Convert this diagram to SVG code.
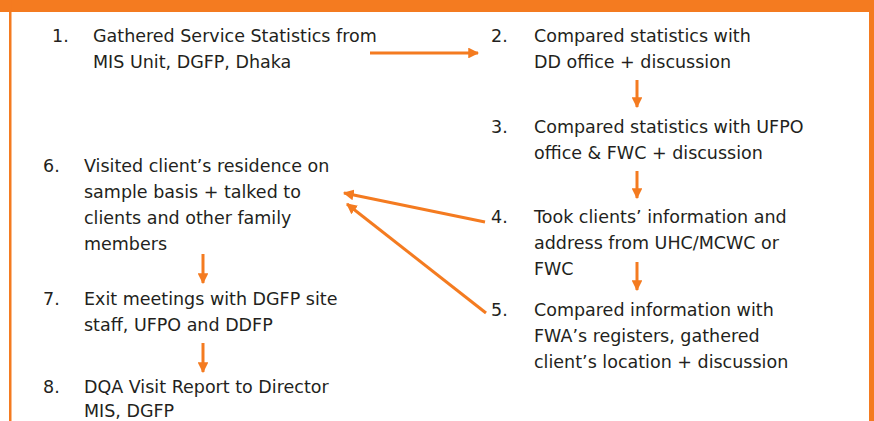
<svg xmlns="http://www.w3.org/2000/svg" width="874" height="421" viewBox="0 0 874 421">
  <style>
    .t { font-family: "DejaVu Sans", "Open Sans", sans-serif; font-size: 17.5px; fill: #231f20; }
    .c { stroke: #f47b20; stroke-width: 3; fill: none; }
  </style>
  <defs>
    <marker id="ah" viewBox="0 0 10 10" refX="9" refY="5" markerWidth="3.6" markerHeight="3.6" markerUnits="strokeWidth" orient="auto">
      <path d="M0,0 L10,5 L0,10 Z" fill="#f47b20"/>
    </marker>
  </defs>

  <!-- frame -->
  <rect x="0" y="0" width="874" height="421" fill="#ffffff"/>
  <rect x="0" y="0" width="874" height="12" fill="#f47b20"/>
  <rect x="9" y="0" width="2.5" height="421" fill="#f47b20"/>
  <rect x="869" y="0" width="5" height="421" fill="#f47b20"/>

  <!-- connectors -->
  <g id="connectors">
    <line class="c" x1="370" y1="53" x2="478" y2="53" marker-end="url(#ah)"/>
    <line class="c" x1="637" y1="80" x2="637" y2="107" marker-end="url(#ah)"/>
    <line class="c" x1="637" y1="171" x2="637" y2="198" marker-end="url(#ah)"/>
    <line class="c" x1="637" y1="262" x2="637" y2="290" marker-end="url(#ah)"/>
    <line class="c" x1="485" y1="222" x2="344" y2="193" marker-end="url(#ah)"/>
    <line class="c" x1="486" y1="313" x2="347" y2="204" marker-end="url(#ah)"/>
    <line class="c" x1="203" y1="254" x2="203" y2="283" marker-end="url(#ah)"/>
    <line class="c" x1="203" y1="343" x2="203" y2="372" marker-end="url(#ah)"/>
  </g>

  <g id="step1">
    <text class="t" x="52" y="42">1.</text>
    <text class="t" x="93" y="42">Gathered Service Statistics from</text>
    <text class="t" x="93" y="68">MIS Unit, DGFP, Dhaka</text>
  </g>
  <g id="step2">
    <text class="t" x="491" y="42">2.</text>
    <text class="t" x="534" y="42">Compared statistics with</text>
    <text class="t" x="534" y="68">DD office + discussion</text>
  </g>
  <g id="step3">
    <text class="t" x="491" y="133">3.</text>
    <text class="t" x="534" y="133">Compared statistics with UFPO</text>
    <text class="t" x="534" y="159">office &amp; FWC + discussion</text>
  </g>
  <g id="step4">
    <text class="t" x="491" y="223">4.</text>
    <text class="t" x="534" y="223">Took clients’ information and</text>
    <text class="t" x="534" y="249">address from UHC/MCWC or</text>
    <text class="t" x="534" y="275">FWC</text>
  </g>
  <g id="step5">
    <text class="t" x="491" y="316">5.</text>
    <text class="t" x="534" y="316">Compared information with</text>
    <text class="t" x="534" y="342">FWA’s registers, gathered</text>
    <text class="t" x="534" y="368">client’s location + discussion</text>
  </g>
  <g id="step6">
    <text class="t" x="43" y="172">6.</text>
    <text class="t" x="84" y="172">Visited client’s residence on</text>
    <text class="t" x="84" y="198">sample basis + talked to</text>
    <text class="t" x="84" y="224">clients and other family</text>
    <text class="t" x="84" y="250">members</text>
  </g>
  <g id="step7">
    <text class="t" x="43" y="305">7.</text>
    <text class="t" x="84" y="305">Exit meetings with DGFP site</text>
    <text class="t" x="84" y="331">staff, UFPO and DDFP</text>
  </g>
  <g id="step8">
    <text class="t" x="43" y="393">8.</text>
    <text class="t" x="84" y="393">DQA Visit Report to Director</text>
    <text class="t" x="84" y="417">MIS, DGFP</text>
  </g>
</svg>
